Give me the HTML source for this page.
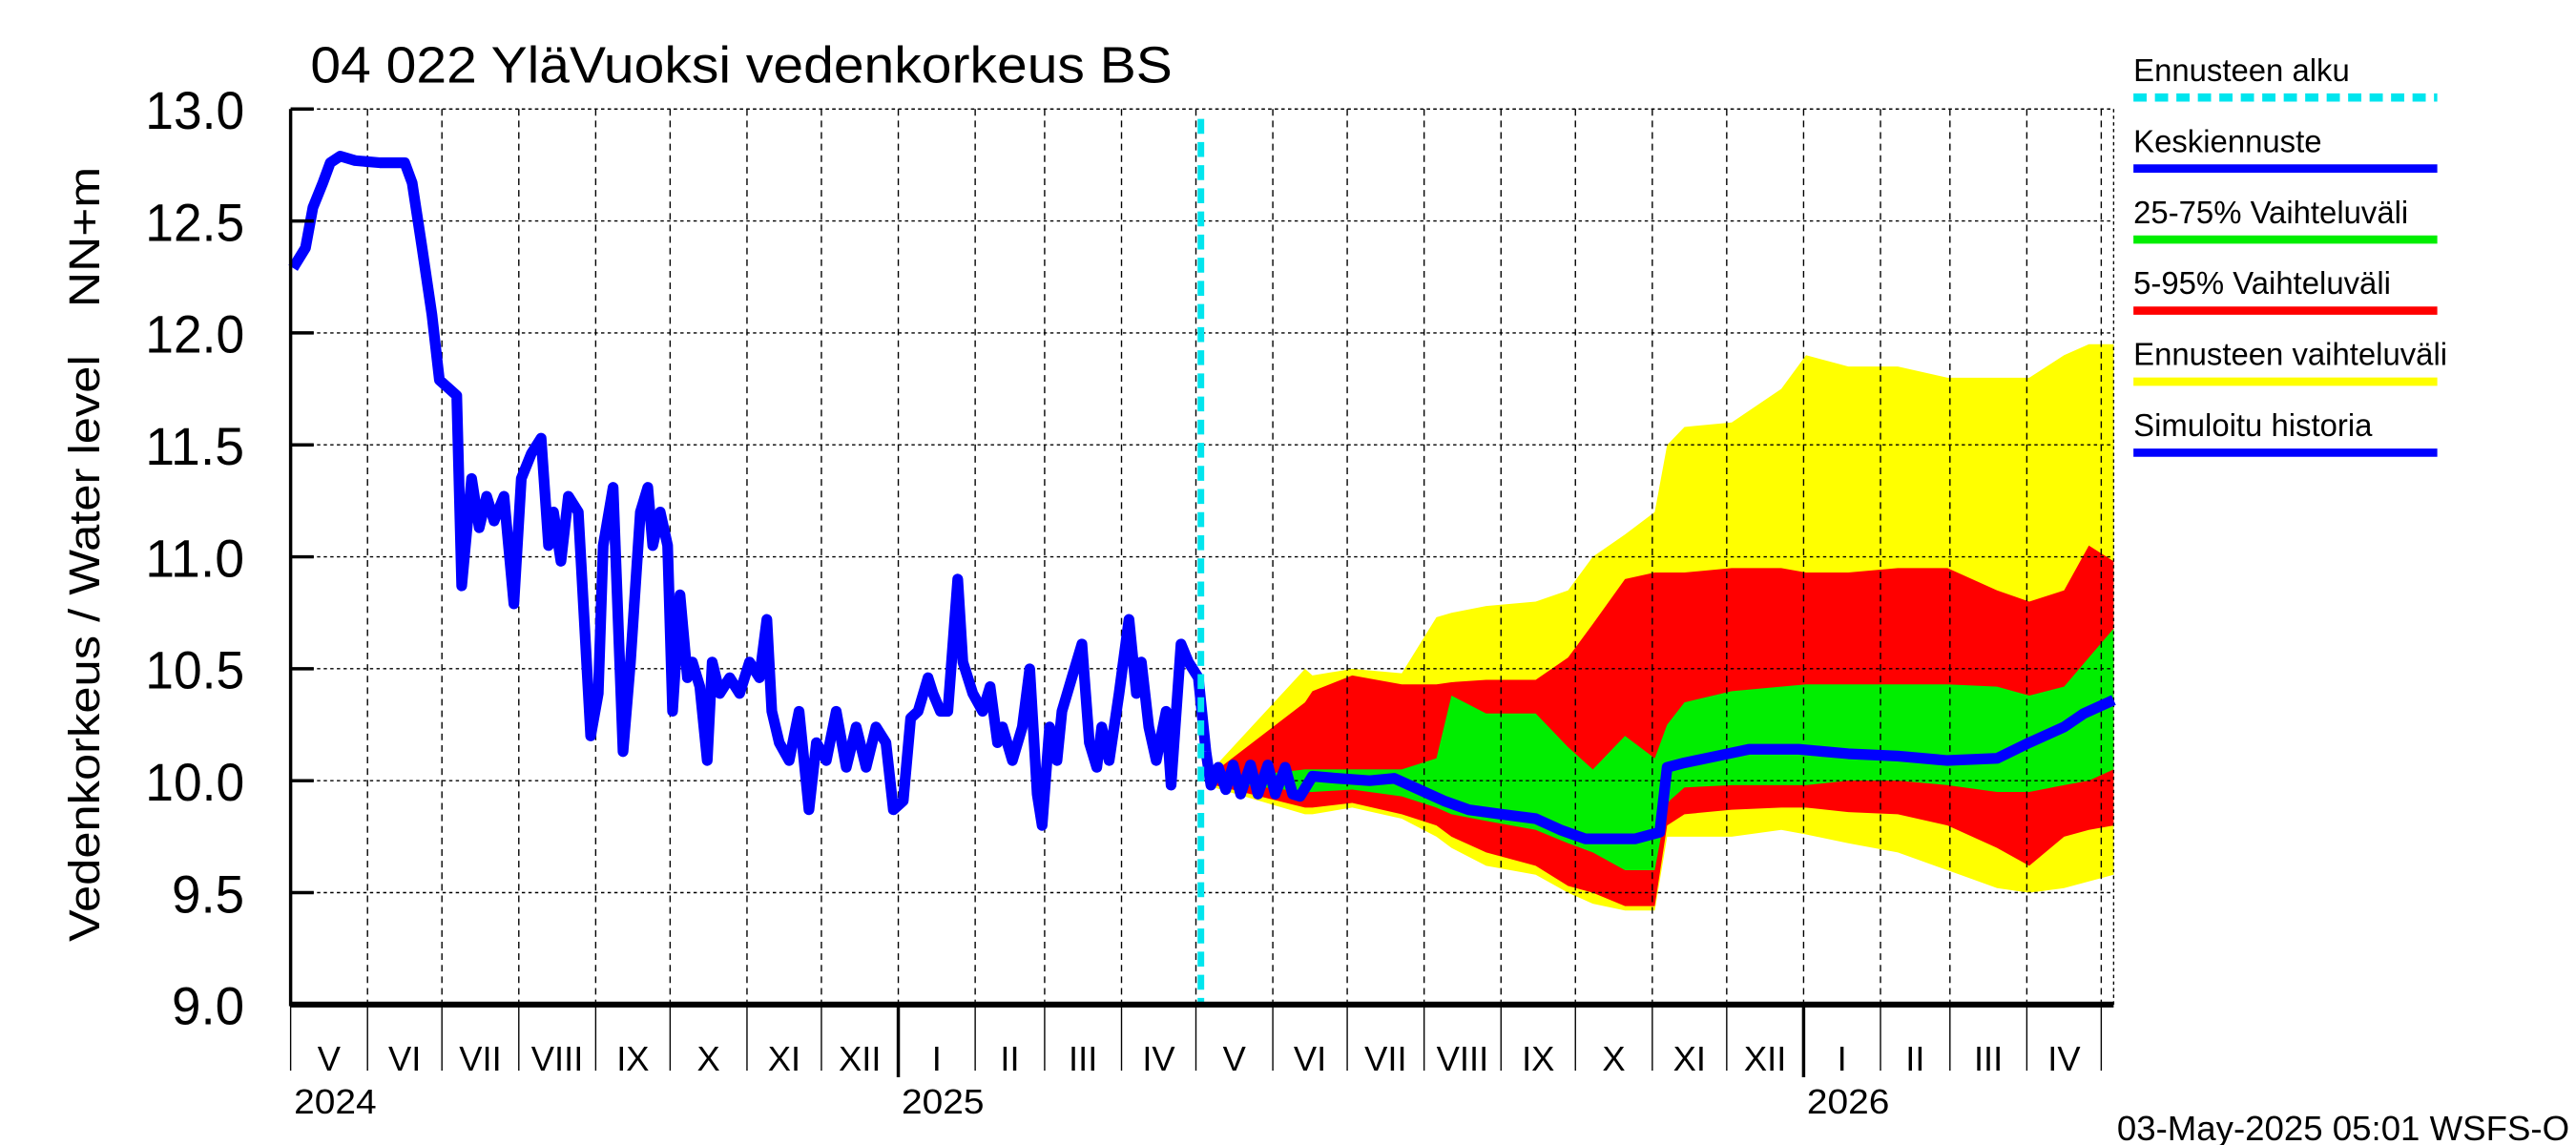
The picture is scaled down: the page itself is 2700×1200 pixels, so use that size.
<!DOCTYPE html>
<html><head><meta charset="utf-8"><style>
html,body{margin:0;padding:0;background:#fff;}
svg{display:block;}
text{font-family:"Liberation Sans",sans-serif;fill:#000;}
</style></head><body>
<svg id="chart" xmlns="http://www.w3.org/2000/svg" width="2700" height="1200" viewBox="0 0 1560 693" preserveAspectRatio="none">
<g id="bands"></g>
<g id="grid"></g>
<g id="lines"></g>
<g id="axes"></g>
<text x="188" y="50" font-size="31" textLength="522" lengthAdjust="spacingAndGlyphs">04 022 YläVuoksi vedenkorkeus BS</text>
<text transform="translate(60,570) rotate(-90)" font-size="26" textLength="355" lengthAdjust="spacingAndGlyphs">Vedenkorkeus / Water level</text>
<text transform="translate(60,186) rotate(-90)" font-size="26" textLength="85" lengthAdjust="spacingAndGlyphs">NN+m</text>
<text x="1282" y="690" font-size="21" textLength="274" lengthAdjust="spacingAndGlyphs">03-May-2025 05:01 WSFS-O</text>
<g id="legend"></g>
</svg>
<script>
// ---- data ----
const yTicks = [9.0, 9.5, 10.0, 10.5, 11.0, 11.5, 12.0, 12.5, 13.0];
const yTickLabels = ["9.0","9.5","10.0","10.5","11.0","11.5","12.0","12.5","13.0"];
const monthLabels = ["I","II","III","IV","V","VI","VII","VIII","IX","X","XI","XII"];
const yearLabels = ["2024","2025","2026"];
const forecastStartDay = 367;
// days since 2024-05-01
const histDays = [1,6,9,13,16,20,26,36,46,49,53,57,60,64,67,69,73,76,79,82,86,90,93,97,101,104,106,109,112,116,121,124,126,130,134,137,141,144,146,149,152,154,157,160,162,165,168,170,173,177,181,185,189,192,194,197,201,205,209,212,216,220,224,228,232,236,240,243,247,250,253,257,259,262,265,269,271,275,279,282,285,287,291,295,298,301,303,306,309,311,315,319,322,325,327,330,334,338,341,343,346,349,353,355,359,362,366,369];
const histValues = [12.29,12.38,12.56,12.67,12.76,12.79,12.77,12.76,12.76,12.67,12.38,12.08,11.79,11.75,11.72,10.87,11.35,11.13,11.27,11.16,11.27,10.79,11.35,11.46,11.53,11.05,11.20,10.98,11.27,11.20,10.20,10.39,11.05,11.31,10.13,10.53,11.20,11.31,11.05,11.20,11.05,10.31,10.83,10.46,10.53,10.42,10.09,10.53,10.39,10.46,10.39,10.53,10.46,10.72,10.31,10.17,10.09,10.31,9.87,10.17,10.09,10.31,10.06,10.24,10.06,10.24,10.17,9.87,9.91,10.28,10.31,10.46,10.39,10.31,10.31,10.90,10.53,10.39,10.31,10.42,10.17,10.24,10.09,10.24,10.50,9.94,9.80,10.24,10.09,10.31,10.46,10.61,10.17,10.06,10.24,10.09,10.39,10.72,10.39,10.53,10.24,10.09,10.31,9.98,10.61,10.53,10.46,10.13];
const medianDays = [369,371,374,377,380,383,387,390,394,397,401,404,407,412,422,435,445,455,465,475,488,502,512,522,532,542,552,555,562,575,588,608,628,648,668,688,701,715,723,735];
const medianValues = [10.13,9.98,10.06,9.96,10.07,9.94,10.07,9.94,10.07,9.94,10.06,9.94,9.93,10.02,10.01,10.00,10.01,9.96,9.91,9.87,9.85,9.83,9.78,9.74,9.74,9.74,9.77,10.06,10.08,10.11,10.14,10.14,10.12,10.11,10.09,10.10,10.17,10.24,10.30,10.36];
const bandDays = [369,409,412,428,448,462,468,482,502,515,525,538,550,555,562,581,601,611,628,648,668,688,701,715,725,735];
const bandMin = [9.98,9.85,9.85,9.88,9.83,9.75,9.70,9.62,9.58,9.50,9.45,9.42,9.42,9.75,9.75,9.75,9.78,9.76,9.72,9.68,9.60,9.52,9.50,9.52,9.55,9.58];
const bandP5 = [9.99,9.88,9.88,9.90,9.85,9.80,9.75,9.68,9.62,9.53,9.50,9.44,9.44,9.80,9.85,9.87,9.88,9.88,9.86,9.85,9.80,9.70,9.62,9.75,9.78,9.80];
const bandP25 = [10.0,9.95,9.95,9.96,9.93,9.88,9.85,9.82,9.78,9.72,9.68,9.60,9.60,9.90,9.97,9.98,9.98,9.98,10.0,10.0,9.98,9.95,9.95,9.98,10.0,10.05];
const bandP75 = [10.0,10.05,10.05,10.05,10.05,10.10,10.38,10.30,10.30,10.15,10.05,10.20,10.10,10.25,10.35,10.40,10.42,10.43,10.43,10.43,10.43,10.42,10.38,10.42,10.55,10.68];
const bandP95 = [10.01,10.35,10.40,10.47,10.43,10.43,10.44,10.45,10.45,10.55,10.70,10.90,10.93,10.93,10.93,10.95,10.95,10.93,10.93,10.95,10.95,10.85,10.80,10.85,11.05,10.98];
const bandMax = [10.02,10.50,10.47,10.50,10.48,10.73,10.75,10.78,10.80,10.85,11.00,11.10,11.20,11.50,11.58,11.60,11.75,11.90,11.85,11.85,11.80,11.80,11.80,11.90,11.95,11.95];

// ---- scales ----
const X0 = 176, X1 = 1280, Y0 = 608, Y1 = 66, DMAX = 735;
const xs = d => X0 + d / DMAX * (X1 - X0);
const ys = v => Y0 - (v - 9) / 4 * (Y0 - Y1);
const NS = "http://www.w3.org/2000/svg";
function mk(tag, attrs, parent) {
  const e = document.createElementNS(NS, tag);
  for (const k in attrs) e.setAttribute(k, attrs[k]);
  parent.appendChild(e);
  return e;
}
const bands = document.getElementById('bands');
const grid = document.getElementById('grid');
const lines = document.getElementById('lines');
const axes = document.getElementById('axes');
const legend = document.getElementById('legend');

function area(lo, hi, color, name) {
  let d = "M" + bandDays.map((t, i) => xs(t).toFixed(1) + "," + ys(hi[i]).toFixed(1)).join("L");
  for (let i = bandDays.length - 1; i >= 0; i--) d += "L" + xs(bandDays[i]).toFixed(1) + "," + ys(lo[i]).toFixed(1);
  const p = mk('path', {d: d + "Z", fill: color}, bands);
  
  
}
area(bandMin, bandMax, "#ffff00", "band-forecast-range");
area(bandP5, bandP95, "#ff0000", "band-5-95");
area(bandP25, bandP75, "#00ee00", "band-25-75");

yTicks.forEach((v, i) => {
  if (i > 0) {
    const l = mk('line', {x1: X0, x2: X1, y1: ys(v), y2: ys(v), stroke: "#000", "stroke-width": 0.8, "stroke-dasharray": "2,2"}, grid);
    
    
  }
  const t = mk('line', {x1: X0, x2: X0 + 14, y1: ys(v), y2: ys(v), stroke: "#000", "stroke-width": 2}, axes);
  
  
  const tx = mk('text', {x: 148, y: ys(v) + 12, "font-size": 32, "text-anchor": "end", textLength: yTickLabels[i].length > 3 ? 60 : 44, lengthAdjust: "spacingAndGlyphs"}, axes);
  tx.textContent = yTickLabels[i];
  
  
});

const base = Date.UTC(2024, 4, 1);
const dayOf = (y, m) => (Date.UTC(y, m, 1) - base) / 86400000;
let yi = 0;
for (let k = 0; k <= 24; k++) {
  const y = 2024 + Math.floor((4 + k) / 12), m = (4 + k) % 12;
  const d = dayOf(y, m);
  if (d > DMAX + 1) break;
  const x = xs(Math.min(d, DMAX));
  if (d > 0) {
    const g = mk('line', {x1: x, x2: x, y1: Y1, y2: Y0, stroke: "#000", "stroke-width": 0.8, "stroke-dasharray": "4,3"}, grid);
    
    
  }
  const tk = mk('line', {x1: x, x2: x, y1: Y0, y2: m === 0 ? 652 : 648, stroke: "#000", "stroke-width": m === 0 ? 2 : 0.8}, axes);
  
  
  const dn = dayOf(m === 11 ? y + 1 : y, (m + 1) % 12);
  if (dn <= DMAX + 5) {
    const lab = mk('text', {x: (x + xs(Math.min(dn, DMAX))) / 2, y: 648, "font-size": 21, "text-anchor": "middle"}, axes);
    lab.textContent = monthLabels[m];
    
    
  }
  if (k === 0 || m === 0) {
    const yl = mk('text', {x: x + 2, y: 674, "font-size": 21, textLength: 50, lengthAdjust: "spacingAndGlyphs"}, axes);
    yl.textContent = yearLabels[yi++];
    
    
  }
}

const pts = (ds, vs) => ds.map((t, i) => xs(t).toFixed(1) + "," + ys(vs[i]).toFixed(1)).join(" ");
const hl = mk('polyline', {points: pts(histDays, histValues), fill: "none", stroke: "#0000ff", "stroke-width": 6.5, "stroke-linejoin": "round"}, lines);


const ml = mk('polyline', {points: pts(medianDays, medianValues), fill: "none", stroke: "#0000ff", "stroke-width": 6.5, "stroke-linejoin": "round"}, lines);


const fx = xs(forecastStartDay);
const fl = mk('line', {x1: fx, x2: fx, y1: 72, y2: Y0, stroke: "#00e5ee", "stroke-width": 4, "stroke-dasharray": "9,5"}, lines);



const la = mk('line', {x1: X0, x2: X0, y1: Y1, y2: Y0 + 1, stroke: "#000", "stroke-width": 2}, axes);


const ba = mk('line', {x1: X0, x2: X1, y1: Y0, y2: Y0, stroke: "#000", "stroke-width": 3.5}, axes);


const ta = mk('line', {x1: X0, x2: X1, y1: Y1, y2: Y1, stroke: "#000", "stroke-width": 0.8, "stroke-dasharray": "2,2"}, grid);


const ra = mk('line', {x1: X1, x2: X1, y1: Y1, y2: Y0, stroke: "#000", "stroke-width": 0.8, "stroke-dasharray": "2,2"}, grid);



const legNames = ["Ennusteen alku","Keskiennuste","25-75% Vaihteluväli","5-95% Vaihteluväli","Ennusteen vaihteluväli","Simuloitu historia"];
const legColors = ["#00e5ee","#0000ff","#00ee00","#ff0000","#ffff00","#0000ff"];
legNames.forEach((n, i) => {
  const y = 49 + i * 43;
  const t = mk('text', {x: 1292, y: y, "font-size": 19}, legend);
  t.textContent = n;
  
  
  const attrs = {x1: 1292, x2: 1476, y1: y + 10, y2: y + 10, stroke: legColors[i], "stroke-width": 5};
  if (i === 0) attrs["stroke-dasharray"] = "8,5";
  const l = mk('line', attrs, legend);
  
  
});
</script>
</body></html>
